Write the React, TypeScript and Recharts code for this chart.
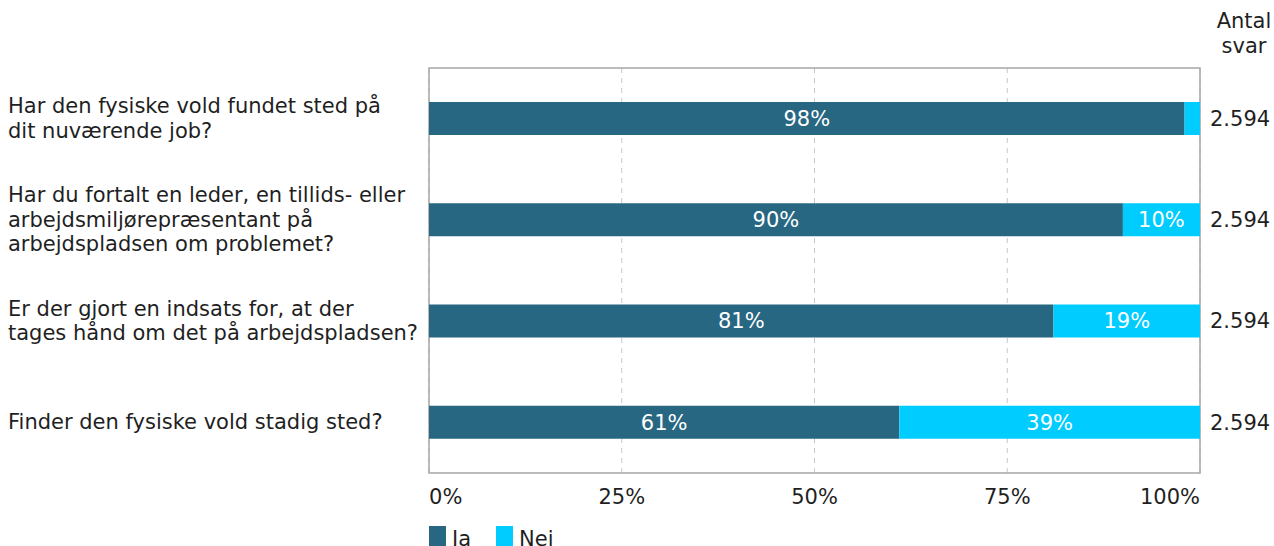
import React from 'react';
import {
    BarChart,
    Bar,
    XAxis,
    YAxis,
    CartesianGrid,
    LabelList,
    Legend,
    ReferenceArea,
} from 'recharts';

// questions, line breaks as in the original layout
const questions = [
    'Har den fysiske vold fundet sted på\ndit nuværende job?',
    'Har du fortalt en leder, en tillids- eller\narbejdsmiljørepræsentant på\narbejdspladsen om problemet?',
    'Er der gjort en indsats for, at der\ntages hånd om det på arbejdspladsen?',
    'Finder den fysiske vold stadig sted?',
];
const ja = [98, 90, 81, 61];
const nej = [2, 10, 19, 39];
const antal = ['2.594', '2.594', '2.594', '2.594'];
const xTicks = [0, 25, 50, 75, 100];

const JA_COLOR = '#276782';
const NEJ_COLOR = '#00CCFF';
const TEXT = '#1f1f1f';
const FONT = '"DejaVu Sans", Verdana, sans-serif';
const FS = 21;

const data = questions.map((q, i) => ({
    question: q,
    ja: ja[i],
    nej: nej[i],
    antal: antal[i],
}));

function QuestionTick(props: any) {
    const { y, payload } = props;
    const lines: string[] = String(payload.value).split('\n');
    const lh = 24.5;
    const start = -((lines.length - 1) / 2) * lh;
    return (
        <text x={8} y={y} fill={TEXT} fontSize={FS} fontFamily={FONT} textAnchor="start">
            {lines.map((l, i) => (
                <tspan key={i} x={8} y={y + start + i * lh} dominantBaseline="central">
                    {l}
                </tspan>
            ))}
        </text>
    );
}

function PercentTick(props: any) {
    const { x, y, payload, index } = props;
    const anchor = index === 0 ? 'start' : index === xTicks.length - 1 ? 'end' : 'middle';
    return (
        <text
            x={x}
            y={y + 16}
            fill={TEXT}
            fontSize={FS}
            fontFamily={FONT}
            textAnchor={anchor}
            dominantBaseline="central"
        >
            {payload.value}%
        </text>
    );
}

function LegendBox() {
    const items = [
        { name: 'Ja', color: JA_COLOR },
        { name: 'Nej', color: NEJ_COLOR },
    ];
    return (
        <div style={{ height: 33, position: 'relative', fontFamily: FONT, fontSize: FS, color: TEXT }}>
            {items.map((it, i) => (
                <div
                    key={it.name}
                    style={{ position: 'absolute', left: 429 + i * 67, top: 13, display: 'flex', alignItems: 'flex-start' }}
                >
                    <span style={{ width: 17, height: 20, background: it.color, display: 'inline-block' }} />
                    <span style={{ marginLeft: 6, lineHeight: '20px', position: 'relative', top: 3 }}>{it.name}</span>
                </div>
            ))}
        </div>
    );
}

export default function App() {
    return (
        <div style={{ position: 'absolute', left: 0, top: 0, width: 1274, height: 546, fontFamily: FONT, background: '#fff' }}>
            <BarChart
                width={1274}
                height={546}
                data={data}
                layout="vertical"
                margin={{ top: 68, right: 74, left: 0, bottom: 0 }}
                barSize={33}
            >
                <CartesianGrid horizontal={false} stroke="#c8c8c8" strokeDasharray="5 5" />
                <ReferenceArea x1={0} x2={100} fill="none" stroke="#a6a6a6" strokeWidth={1.5} ifOverflow="visible" />
                <XAxis
                    type="number"
                    domain={[0, 100]}
                    ticks={xTicks}
                    axisLine={false}
                    tickLine={false}
                    height={40}
                    tick={<PercentTick />}
                    interval={0}
                />
                <YAxis
                    type="category"
                    dataKey="question"
                    width={429}
                    axisLine={false}
                    tickLine={false}
                    tick={<QuestionTick />}
                    interval={0}
                />
                <Legend
                    verticalAlign="bottom"
                    content={<LegendBox />}
                    wrapperStyle={{ left: 0, width: 1274, height: 33 }}
                />
                <Bar dataKey="ja" name="Ja" stackId="a" fill={JA_COLOR} isAnimationActive={false}>
                    <LabelList
                        dataKey="ja"
                        position="center"
                        fill="#ffffff"
                        fontSize={FS}
                        fontFamily={FONT}
                        formatter={(v: any) => (v >= 5 ? `${v}%` : '')}
                    />
                </Bar>
                <Bar dataKey="nej" name="Nej" stackId="a" fill={NEJ_COLOR} isAnimationActive={false}>
                    <LabelList
                        dataKey="nej"
                        position="center"
                        fill="#ffffff"
                        fontSize={FS}
                        fontFamily={FONT}
                        formatter={(v: any) => (v >= 5 ? `${v}%` : '')}
                    />
                    <LabelList
                        dataKey="antal"
                        position="right"
                        offset={10}
                        fill={TEXT}
                        fontSize={FS}
                        fontFamily={FONT}
                    />
                </Bar>
            </BarChart>
            <div
                style={{
                    position: 'absolute',
                    left: 1208,
                    top: 9,
                    width: 72,
                    textAlign: 'center',
                    fontSize: FS,
                    lineHeight: '25px',
                    color: TEXT,
                }}
            >
                Antal
                <br />
                svar
            </div>
        </div>
    );
}
